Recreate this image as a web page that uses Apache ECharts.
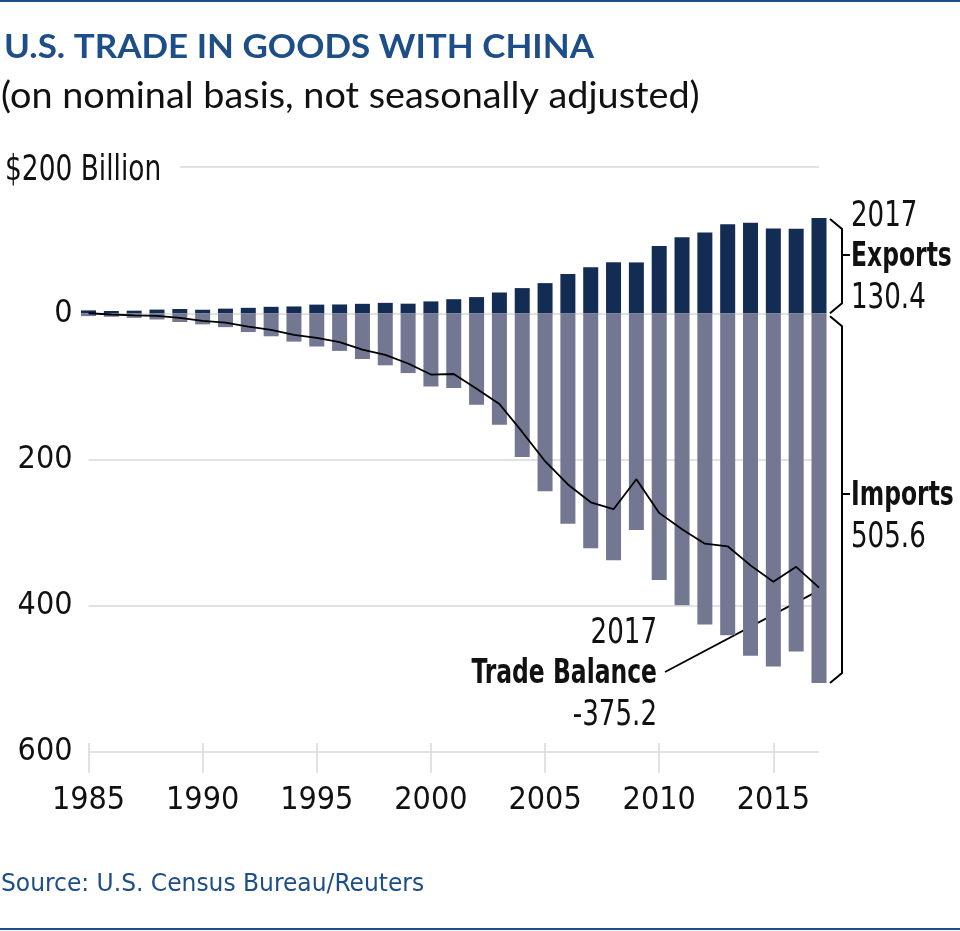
<!DOCTYPE html>
<html>
<head>
<meta charset="utf-8">
<script src="https://cdn.jsdelivr.net/npm/echarts@6/dist/echarts.min.js"></script>
<style>
  html, body { margin: 0; padding: 0; background: #ffffff; }
  #chart { width: 960px; height: 931px; }
</style>
</head>
<body>
<div id="chart"></div>
<script>
// ---- Data (US$ billions) ----
const years = [1985,1986,1987,1988,1989,1990,1991,1992,1993,1994,1995,1996,1997,1998,1999,2000,2001,2002,2003,2004,2005,2006,2007,2008,2009,2010,2011,2012,2013,2014,2015,2016,2017];
const exportsVals = [3.9,3.1,3.5,5.0,5.8,4.8,6.3,7.4,8.8,9.3,11.8,12.0,12.9,14.2,13.1,16.2,19.2,22.1,28.4,34.4,41.2,53.7,62.9,69.7,69.5,91.9,104.1,110.5,121.7,123.7,115.9,115.6,130.4];
const importsVals = [3.9,4.8,6.3,8.5,12.0,15.2,19.0,25.7,31.5,38.8,45.5,51.5,62.6,71.2,81.8,100.0,102.3,125.2,152.4,196.7,243.5,287.8,321.4,337.8,296.4,364.9,399.4,425.6,440.4,468.5,483.2,462.4,505.6];
const balanceVals = [0.0,-1.7,-2.8,-3.5,-6.2,-10.4,-12.7,-18.3,-22.8,-29.5,-33.8,-39.5,-49.7,-56.9,-68.7,-83.8,-83.1,-103.1,-124.1,-162.3,-202.3,-234.1,-258.5,-268.0,-226.9,-273.0,-295.3,-315.1,-318.7,-344.8,-367.3,-346.8,-375.2];
const xTickYears = [1985,1990,1995,2000,2005,2010,2015];

// ---- Styling ----
const NARROW = "'Liberation Sans Narrow', 'DejaVu Sans Condensed', sans-serif";
const BLUE = '#1d4e87';
const EXP_COLOR = '#122c53';
const IMP_COLOR = '#737792';
const GRID_COLOR = '#d9d9d9';
const SX = 0.83;   // horizontal condensing for regular annotation text
const SXB = 0.79;  // horizontal condensing for bold annotation text

const chart = echarts.init(document.getElementById('chart'), null, { renderer: 'canvas' });

const option = {
  backgroundColor: '#ffffff',
  animation: false,
  grid: { left: 88.5, right: 141, top: 167, bottom: 179, containLabel: false },
  xAxis: {
    type: 'value',
    min: 1985, max: 2017, interval: 5,
    position: 'bottom',
    offset: -9,
    axisLine: { show: false, onZero: false },
    splitLine: { show: false },
    axisTick: { show: true, length: 30, lineStyle: { color: GRID_COLOR, width: 1.5 }, customValues: xTickYears },
    axisLabel: { show: true, customValues: xTickYears, margin: 42, fontFamily: NARROW, fontSize: 32, color: '#111', formatter: v => String(v) }
  },
  yAxis: {
    type: 'value',
    min: -600, max: 200, interval: 200,
    axisLine: { show: false },
    axisTick: { show: false },
    splitLine: { show: true, lineStyle: { color: GRID_COLOR, width: 1.5 } },
    axisLabel: {
      margin: 16, fontFamily: NARROW, fontSize: 32, color: '#111',
      formatter: v => (v === 200 ? '' : String(Math.abs(v)))
    }
  },
  series: [
    {
      name: 'Exports', type: 'bar', barWidth: 15, barGap: '-100%', clip: false,
      itemStyle: { color: EXP_COLOR },
      data: years.map((y, i) => [y, exportsVals[i]])
    },
    {
      name: 'Imports', type: 'bar', barWidth: 15, barGap: '-100%', clip: false,
      itemStyle: { color: IMP_COLOR },
      data: years.map((y, i) => [y, -importsVals[i]])
    },
    {
      name: 'Trade balance', type: 'line', showSymbol: false, symbol: 'none', clip: false,
      lineStyle: { color: '#000', width: 1.8 },
      z: 5,
      data: years.map((y, i) => [y, balanceVals[i]])
    }
  ]
};
chart.setOption(option);

// ---- Annotations (positions derived from axes where tied to data) ----
const last = years.length - 1;
const pTopExp = chart.convertToPixel({ gridIndex: 0 }, [years[last], exportsVals[last]]);
const pZero = chart.convertToPixel({ gridIndex: 0 }, [years[last], 0]);
const pImp = chart.convertToPixel({ gridIndex: 0 }, [years[last], -importsVals[last]]);
const pBal = chart.convertToPixel({ gridIndex: 0 }, [years[last], balanceVals[last]]);
const pTop = chart.convertToPixel({ gridIndex: 0 }, [1985, 200]);

const bx0 = pTopExp[0] + 11;  // brace end (left)
const bx1 = pTopExp[0] + 23;  // brace spine
const bx2 = bx1 + 8;          // brace tick

function brace(yTop, yBot, yMid) {
  return {
    type: 'polyline',
    shape: { points: [[bx0, yTop], [bx1, yTop + 10], [bx1, yMid], [bx2, yMid], [bx1, yMid], [bx1, yBot - 10], [bx0, yBot]] },
    style: { stroke: '#000', lineWidth: 2, fill: null }
  };
}

function txt(x, y, s, sx, opts) {
  return {
    type: 'text', x: x, y: y, scaleX: sx, scaleY: 1,
    style: Object.assign({ text: s, fill: '#111', font: '35px ' + NARROW, textAlign: 'left', textVerticalAlign: 'middle' }, opts || {})
  };
}

const tx = bx2 + 1;
chart.setOption({
  graphic: [
    { type: 'rect', shape: { x: 0, y: 0, width: 960, height: 2 }, style: { fill: BLUE } },
    { type: 'rect', shape: { x: 0, y: 928, width: 960, height: 2 }, style: { fill: BLUE } },
    txt(4, 47, 'U.S. TRADE IN GOODS WITH CHINA', 1.06, { fill: BLUE, font: 'bold 33px Lato, sans-serif' }),
    txt(1, 96, '(on nominal basis, not seasonally adjusted)', 1.05, { fill: '#111', font: '36px Lato, sans-serif' }),
    {
      type: 'rect', shape: { x: 0, y: pTop[1] - 20, width: 180, height: 40 }, style: { fill: '#ffffff' }
    },
    txt(5, pTop[1] + 4, '$200 Billion', 0.84),
    brace(pTopExp[1] + 1, pZero[1], 255),
    brace(pZero[1] + 3, pImp[1], 494),
    txt(tx, 217, '2017', SX),
    txt(tx, 257, 'Exports', SXB, { font: 'bold 33px ' + NARROW }),
    txt(tx, 299, '130.4', SX),
    txt(tx, 496, 'Imports', SXB, { font: 'bold 33px ' + NARROW }),
    txt(tx, 538, '505.6', SX),
    txt(657, 634, '2017', SX, { textAlign: 'right' }),
    txt(657, 674, 'Trade Balance', SXB, { textAlign: 'right', font: 'bold 33px ' + NARROW }),
    txt(657, 716, '-375.2', SX, { textAlign: 'right' }),
    {
      type: 'line',
      shape: { x1: 665, y1: 672, x2: pBal[0] - 6, y2: pBal[1] + 6 },
      style: { stroke: '#000', lineWidth: 1.8 }
    },
    txt(1, 884, 'Source: U.S. Census Bureau/Reuters', 1.04, { fill: BLUE, font: '25px ' + NARROW })
  ]
});
</script>
</body>
</html>
